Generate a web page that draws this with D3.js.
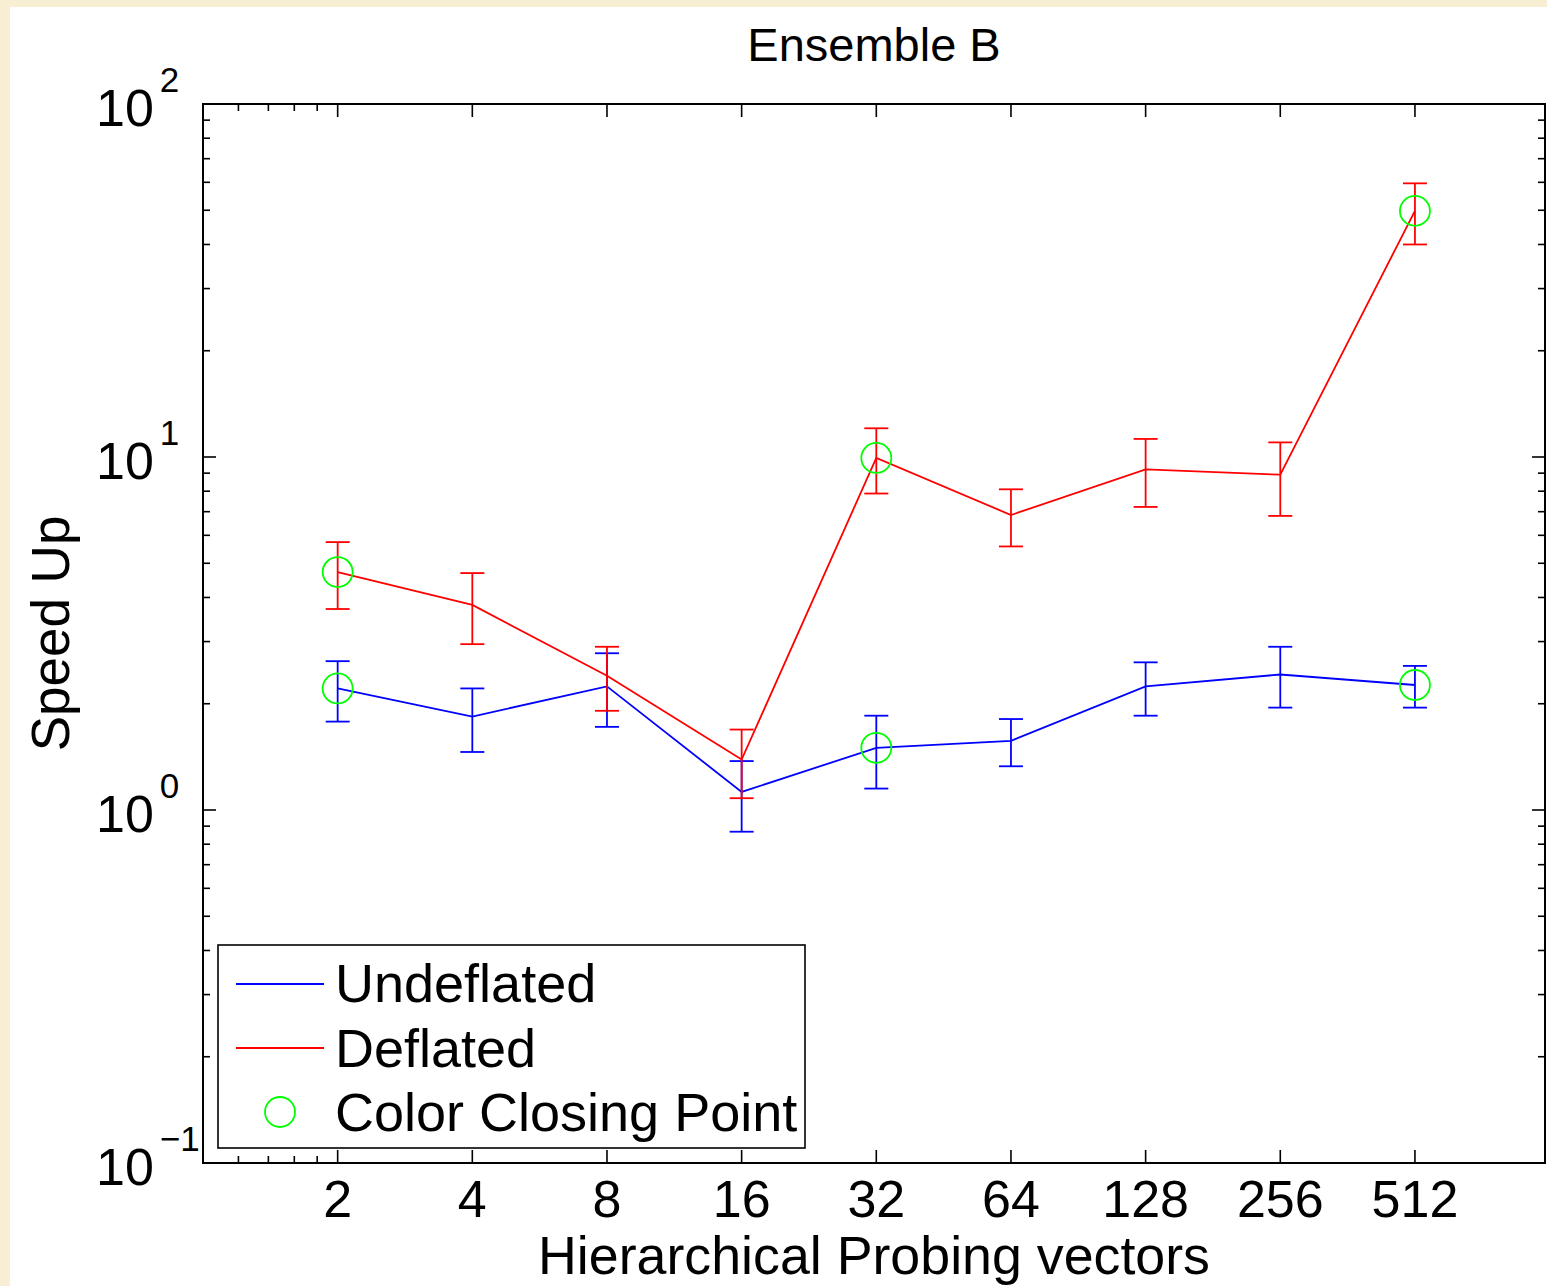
<!DOCTYPE html>
<html>
<head>
<meta charset="utf-8">
<script src="https://cdn.jsdelivr.net/npm/d3@7"></script>
<style>
  html, body { margin: 0; padding: 0; background: #f7eed3; }
  svg { display: block; }
  text { font-family: "Liberation Sans", Arial, Helvetica, sans-serif; fill: #000; }
</style>
</head>
<body>
<svg id="chart" width="1547" height="1286"></svg>
<script>
// ---------- data ----------
const probingVectors = [2, 4, 8, 16, 32, 64, 128, 256, 512];
const xTickLabels = ["2", "4", "8", "16", "32", "64", "128", "256", "512"];

const undeflated     = [2.21, 1.84, 2.24, 1.125, 1.50, 1.57, 2.24, 2.42, 2.26];
const undeflatedLow  = [1.78, 1.46, 1.72, 0.868, 1.15, 1.33, 1.85, 1.95, 1.95];
const undeflatedHigh = [2.64, 2.21, 2.78, 1.376, 1.85, 1.81, 2.62, 2.90, 2.56];

const deflated     = [4.72, 3.81, 2.40, 1.39, 9.94, 6.85, 9.23, 8.91, 49.8];
const deflatedLow  = [3.71, 2.95, 1.91, 1.08, 7.88, 5.58, 7.22, 6.81, 40.0];
const deflatedHigh = [5.74, 4.69, 2.90, 1.69, 12.06, 8.10, 11.25, 11.0, 59.6];

const closingPointIndex = [0, 4, 8];

const yMajorTicks = [0.1, 1, 10, 100];
const yTickExponents = ["\u22121", "0", "1", "2"];
const xMinorTicks = [1.2, 1.4, 1.6, 1.8];

const seriesNames = ["Undeflated", "Deflated", "Color Closing Point"];

// ---------- layout ----------
const svg = d3.select("#chart");
const L = 203, R = 1545, T = 104, B = 1163;

svg.append("rect").attr("x", 10).attr("y", 7).attr("width", 1537).attr("height", 1279).attr("fill", "#fff");

const x = d3.scaleLog().base(2).domain([1, 1000]).range([L, R]);
const y = d3.scaleLog().domain([0.1, 100]).range([B, T]);

// minor y ticks
const yMinor = [];
[0.1, 1, 10].forEach(d => { for (let k = 2; k <= 9; k++) yMinor.push(d * k); });

const axisG = svg.append("g").attr("stroke", "#000");

function yTicks(vals, len) {
  vals.forEach(v => {
    const yy = y(v);
    axisG.append("line").attr("x1", L).attr("x2", L + len).attr("y1", yy).attr("y2", yy).attr("stroke-width", 1.6);
    axisG.append("line").attr("x1", R).attr("x2", R - len).attr("y1", yy).attr("y2", yy).attr("stroke-width", 1.6);
  });
}
yTicks(yMajorTicks, 13);
yTicks(yMinor, 7);

function xTicks(vals, len) {
  vals.forEach(v => {
    const xx = x(v);
    axisG.append("line").attr("x1", xx).attr("x2", xx).attr("y1", B).attr("y2", B - len).attr("stroke-width", 1.6);
    axisG.append("line").attr("x1", xx).attr("x2", xx).attr("y1", T).attr("y2", T + len).attr("stroke-width", 1.6);
  });
}
xTicks(probingVectors, 13);
xTicks(xMinorTicks, 7);

// frame
svg.append("rect").attr("x", L).attr("y", T).attr("width", R - L).attr("height", B - T)
  .attr("fill", "none").attr("stroke", "#000").attr("stroke-width", 2);

// x tick labels
svg.append("g").selectAll("text").data(probingVectors).join("text")
  .attr("x", d => x(d)).attr("y", 1217)
  .attr("text-anchor", "middle").attr("font-size", 52)
  .text((d, i) => xTickLabels[i]);

// y tick labels (10^n)
yMajorTicks.forEach((v, i) => {
  const yy = y(v);
  const t = svg.append("text").attr("x", 96).attr("y", yy + 22).attr("font-size", 52);
  t.append("tspan").text("10");
  t.append("tspan").attr("dx", 6).attr("dy", -34).attr("font-size", 35).text(yTickExponents[i]);
});

// title and axis labels
svg.append("text").attr("x", (L + R) / 2).attr("y", 61).attr("text-anchor", "middle")
  .attr("font-size", 47).text("Ensemble B");
svg.append("text").attr("x", (L + R) / 2).attr("y", 1274).attr("text-anchor", "middle")
  .attr("font-size", 53).attr("textLength", 672).attr("lengthAdjust", "spacingAndGlyphs")
  .text("Hierarchical Probing vectors");
svg.append("text").attr("transform", `translate(69, ${(T + B) / 2}) rotate(-90)`)
  .attr("text-anchor", "middle").attr("font-size", 53).text("Speed Up");

// ---------- series ----------
const line = d3.line().x(d => x(d[0])).y(d => y(d[1]));
const capW = 12;

function drawSeries(vals, lo, hi, color) {
  const g = svg.append("g").attr("stroke", color).attr("fill", "none").attr("stroke-width", 1.8);
  g.append("path").attr("d", line(probingVectors.map((p, i) => [p, vals[i]])));
  probingVectors.forEach((p, i) => {
    const xx = x(p);
    g.append("line").attr("x1", xx).attr("x2", xx).attr("y1", y(lo[i])).attr("y2", y(hi[i]));
    g.append("line").attr("x1", xx - capW).attr("x2", xx + capW).attr("y1", y(lo[i])).attr("y2", y(lo[i]));
    g.append("line").attr("x1", xx - capW).attr("x2", xx + capW).attr("y1", y(hi[i])).attr("y2", y(hi[i]));
  });
}
drawSeries(undeflated, undeflatedLow, undeflatedHigh, "#0000ff");
drawSeries(deflated, deflatedLow, deflatedHigh, "#ff0000");

// closing points
const cg = svg.append("g").attr("stroke", "#00ff00").attr("fill", "none").attr("stroke-width", 1.8);
[undeflated, deflated].forEach(vals => {
  closingPointIndex.forEach(i => {
    cg.append("circle").attr("cx", x(probingVectors[i])).attr("cy", y(vals[i])).attr("r", 15);
  });
});

// ---------- legend ----------
const lg = svg.append("g");
lg.append("rect").attr("x", 218).attr("y", 945).attr("width", 587).attr("height", 203)
  .attr("fill", "#fff").attr("stroke", "#000").attr("stroke-width", 1.6);
const legendRows = [
  { name: seriesNames[0], color: "#0000ff", type: "line", cy: 984, by: 1002 },
  { name: seriesNames[1], color: "#ff0000", type: "line", cy: 1048, by: 1067 },
  { name: seriesNames[2], color: "#00ff00", type: "circle", cy: 1112, by: 1131 }
];
legendRows.forEach(r => {
  if (r.type === "line") {
    lg.append("line").attr("x1", 236).attr("x2", 324).attr("y1", r.cy).attr("y2", r.cy)
      .attr("stroke", r.color).attr("stroke-width", 1.8);
  } else {
    lg.append("circle").attr("cx", 280).attr("cy", r.cy).attr("r", 15)
      .attr("fill", "none").attr("stroke", r.color).attr("stroke-width", 1.8);
  }
  lg.append("text").attr("x", 335).attr("y", r.by).attr("font-size", 54).text(r.name);
});
</script>
</body>
</html>
